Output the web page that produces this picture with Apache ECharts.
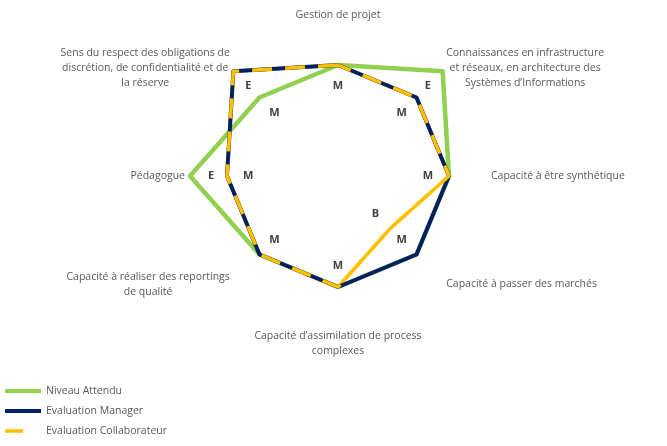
<!DOCTYPE html>
<html>
<head>
<meta charset="utf-8">
<title>Radar compétences</title>
<script src="https://cdn.jsdelivr.net/npm/echarts@6/dist/echarts.min.js"></script>
<style>
    html, body { margin: 0; padding: 0; background: #fff; }
    #chart { width: 667px; height: 446px; }
</style>
</head>
<body>
<div id="chart"></div>
<script>
    // axes, listed counterclockwise starting at the top
    var axes = [
        'Gestion de projet',
        'Sens du respect des obligations de\ndiscrétion, de confidentialité et de\nla réserve',
        'Pédagogue',
        'Capacité à réaliser des reportings\nde qualité',
        'Capacité d\u2019assimilation de process\ncomplexes',
        'Capacité à passer des marchés',
        'Capacité à être synthétique',
        'Connaissances en infrastructure\net réseaux, en architecture des\nSystèmes d\u2019Informations'
    ];
    // niveaux : 1 .. 4  (B = 2, M = 3, E = 4)
    var levelNames = ['', '', 'B', 'M', 'E'];
    var niveauAttendu = [3, 3, 4, 3, 3, 3, 3, 4];
    var evalManager = [3, 4, 3, 3, 3, 3, 3, 3];
    var evalCollab = [3, 4, 3, 3, 3, 2, 3, 3];

    var LABEL_SHIFT = 0.57; // labels sit a bit inside the points

    // one label per distinct level on each axis
    var highLabels = [], lowLabels = [];
    axes.forEach(function (a, i) {
        var vals = [niveauAttendu[i], evalManager[i], evalCollab[i]];
        var hi = Math.max.apply(null, vals), lo = Math.min.apply(null, vals);
        highLabels.push(hi - LABEL_SHIFT);
        lowLabels.push(lo < hi ? lo - LABEL_SHIFT : 0);
    });

    var chart = echarts.init(document.getElementById('chart'));
    var option = {
        animation: false,
        textStyle: { fontFamily: 'Open Sans' },
        legend: {
            orient: 'vertical',
            left: 5,
            top: 384,
            height: 60,
            itemWidth: 36,
            itemHeight: 4,
            itemGap: 6,
            padding: 0,
            textStyle: { fontSize: 10.5, lineHeight: 14, color: '#595959', fontFamily: 'Open Sans' },
            data: [
                { name: 'Niveau Attendu', icon: 'rect' },
                { name: 'Evaluation Manager', icon: 'rect' },
                { name: 'Evaluation Collaborateur', icon: 'path://M0,0H20V4H0Z M39.9,0H40V4H39.9Z' }
            ]
        },
        radar: {
            center: [338, 176],
            radius: 148,
            startAngle: 90,
            shape: 'polygon',
            splitNumber: 4,
            indicator: axes.map(function (a) { return { name: a, min: 0, max: 4 }; }),
            axisName: {
                color: '#595959',
                fontSize: 10.5,
                fontFamily: 'Open Sans',
                formatter: function (name) {
                    return name.split('\n').map(function (l) { return '{c|' + l + '}'; }).join('\n');
                },
                rich: { c: { align: 'center', color: '#595959', fontSize: 10.5, fontFamily: 'Open Sans', lineHeight: 15 } }
            },
            nameGap: 5,
            axisLine: { show: false },
            splitLine: { show: false },
            splitArea: { show: false },
            axisTick: { show: false },
            axisLabel: { show: false }
        },
        series: [
            {
                name: 'Niveau Attendu',
                type: 'radar',
                symbol: 'none',
                z: 2,
                lineStyle: { color: '#92D050', width: 4.5 },
                itemStyle: { color: '#92D050' },
                data: [{ value: niveauAttendu, name: 'Niveau Attendu' }]
            },
            {
                // solid yellow under the manager line
                name: 'Evaluation Collaborateur',
                type: 'radar',
                symbol: 'none',
                z: 3,
                lineStyle: { color: '#FFC000', width: 3.5 },
                itemStyle: { color: '#FFC000' },
                data: [{ value: evalCollab, name: 'Evaluation Collaborateur' }]
            },
            {
                name: 'Evaluation Manager',
                type: 'radar',
                symbol: 'none',
                z: 4,
                lineStyle: { color: '#002060', width: 4 },
                itemStyle: { color: '#002060' },
                data: [{ value: evalManager, name: 'Evaluation Manager' }]
            },
            {
                // dashes on top
                name: 'Evaluation Collaborateur',
                type: 'radar',
                symbol: 'none',
                z: 5,
                lineStyle: { color: '#FFC000', width: 3.5, type: [20, 13], cap: 'butt' },
                itemStyle: { color: '#FFC000' },
                data: [{ value: evalCollab, name: 'Evaluation Collaborateur' }]
            },
            {
                name: 'labels',
                type: 'radar',
                symbol: 'circle',
                symbolSize: 2,
                silent: true,
                z: 6,
                lineStyle: { opacity: 0, width: 0 },
                itemStyle: { color: 'rgba(0,0,0,0)' },
                label: {
                    show: true,
                    position: 'inside',
                    color: '#404040',
                    fontSize: 11,
                    fontWeight: 'bold',
                    fontFamily: 'Open Sans',
                    formatter: function (p) {
                        return p.value > 0 ? levelNames[Math.round(p.value + LABEL_SHIFT)] : '';
                    }
                },
                data: [{ value: highLabels, name: 'haut' }, { value: lowLabels, name: 'bas' }]
            }
        ]
    };
    chart.setOption(option);
</script>
</body>
</html>
